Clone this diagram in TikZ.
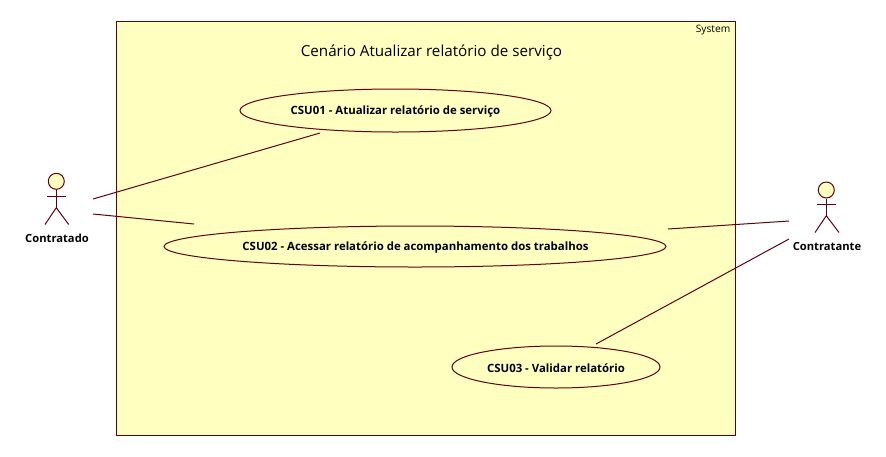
\documentclass[tikz,border=0pt]{standalone}
\usepackage{fontspec}
\setmainfont{Open Sans}
\usepackage{xcolor}
\usetikzlibrary{shapes.geometric}
\definecolor{umlline}{HTML}{600010}
\definecolor{umlfill}{HTML}{FFFFC0}

\begin{document}
\begin{tikzpicture}[
  x=1pt, y=-1pt,
  system/.style={rectangle, draw=umlline, fill=umlfill, line width=1pt, minimum width=619pt, minimum height=414pt},
  usecase/.style={ellipse, draw=umlline, fill=umlfill, line width=1pt, inner sep=0pt},
  wire/.style={draw=umlline, line width=1pt},
  casename/.style={font=\fontsize{11.4}{13}\selectfont\bfseries, text=black, inner sep=0pt},
  actorname/.style={font=\fontsize{11.2}{13}\selectfont\bfseries, text=black, inner sep=0pt},
  head/.style={circle, draw=umlline, fill=umlfill, line width=1pt, minimum size=16pt, inner sep=0pt}
]
\useasboundingbox (0,0) rectangle (886,456);

% System boundary
\node[system] (sys) at (425.5, 228) {};
\node[anchor=north east, font=\fontsize{10.2}{12}\selectfont, inner sep=0pt] (systag) at (730.5, 25) {System};
\node[font=\fontsize{15.2}{18}\selectfont, inner sep=0pt] (title) at (431.5, 52) {Cenário Atualizar relatório de serviço};

% Use cases
\node[usecase, minimum width=311pt, minimum height=43pt] (csu1) at (395.5, 110.5) {};
\node[usecase, minimum width=502pt, minimum height=41pt] (csu2) at (415, 246.5) {};
\node[usecase, minimum width=208pt, minimum height=42pt] (csu3) at (556, 367) {};
\node[casename] (csu1t) at (395.5, 111.5) {CSU01 - Atualizar relatório de serviço};
\node[casename] (csu2t) at (415.5, 247.5) {CSU02 - Acessar relatório de acompanhamento dos trabalhos};
\node[casename] (csu3t) at (556, 368) {CSU03 - Validar relatório};

% Actor on the left
\node[head] (headA) at (56.3, 181.3) {};
\coordinate (hipA) at (56.3, 207.7);
\coordinate (armAl) at (47, 196);
\coordinate (armAr) at (66, 196);
\coordinate (footAl) at (45, 224.5);
\coordinate (footAr) at (68.7, 224.5);
\draw[wire] (headA) -- (hipA);
\draw[wire] (armAl) -- (armAr);
\draw[wire] (footAl) -- (hipA) -- (footAr);
\node[actorname] (contratado) at (57, 238) {Contratado};

% Actor on the right
\node[head] (headB) at (826.3, 190) {};
\coordinate (hipB) at (826.3, 215.7);
\coordinate (armBl) at (817, 204);
\coordinate (armBr) at (836, 204);
\coordinate (footBl) at (815, 232.5);
\coordinate (footBr) at (839, 232.5);
\draw[wire] (headB) -- (hipB);
\draw[wire] (armBl) -- (armBr);
\draw[wire] (footBl) -- (hipB) -- (footBr);
\node[actorname] (contratante) at (827, 246) {Contratante};

% Free wire ends
\coordinate (a1) at (93, 199);
\coordinate (u1) at (320, 133);
\coordinate (a2) at (93, 214);
\coordinate (u2) at (194, 224);
\coordinate (b1) at (789, 221);
\coordinate (v2) at (668, 229);
\coordinate (b2) at (789, 239);
\coordinate (v3) at (596, 344);

% Wires
\draw[wire] (a1) -- (u1);
\draw[wire] (a2) -- (u2);
\draw[wire] (b1) -- (v2);
\draw[wire] (b2) -- (v3);

\end{tikzpicture}
\end{document}
